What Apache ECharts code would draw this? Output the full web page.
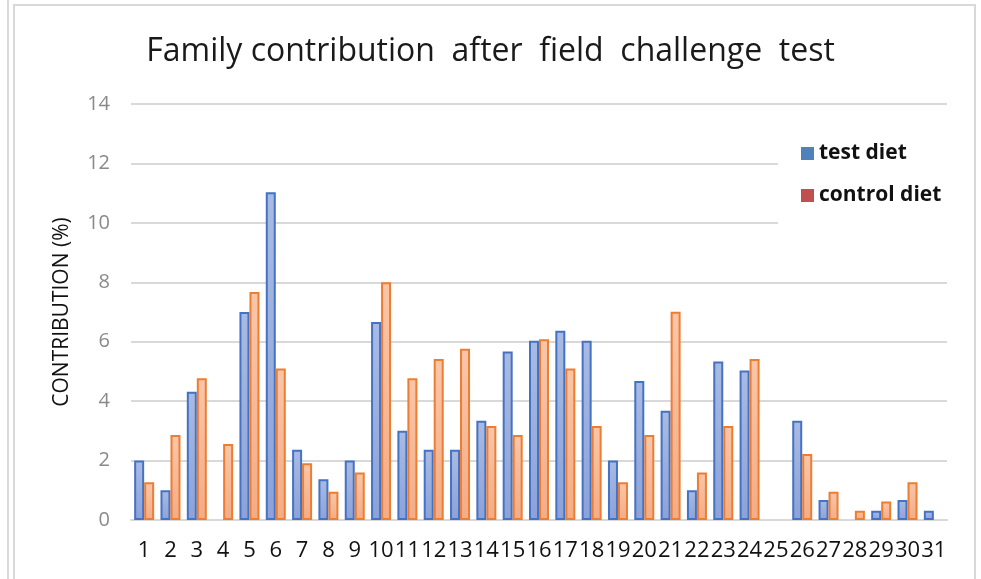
<!DOCTYPE html>
<html>
<head>
<meta charset="utf-8">
<script src="https://cdn.jsdelivr.net/npm/echarts@6/dist/echarts.min.js"></script>
<style>
    html, body { margin: 0; padding: 0; background: #fff; }
    #chart { width: 981px; height: 579px; }
</style>
</head>
<body>
<div id="chart"></div>
<script>
// families 1..31
var families = [];
for (var i = 1; i <= 31; i++) families.push(String(i));

// contribution (%), 0 = no bar in the picture
var test_diet = [2.0, 1.0, 4.32, 0, 7.0, 11.03, 2.36, 1.37, 2.0, 6.66,
    3.0, 2.36, 2.36, 3.34, 5.67, 6.03, 6.37, 6.03, 2.0, 4.68,
    3.68, 1.0, 5.33, 5.03, 0, 3.34, 0.67, 0, 0.31, 0.67, 0.31];
var control_diet = [1.27, 2.86, 4.77, 2.56, 7.67, 5.1, 1.91, 0.95, 1.6, 8.0,
    4.77, 5.42, 5.76, 3.16, 2.86, 6.08, 5.1, 3.16, 1.27, 2.86,
    7.01, 1.6, 3.16, 5.42, 0, 2.22, 0.95, 0.31, 0.62, 1.27, 0];

var chart = echarts.init(document.getElementById('chart'));

function grad(top, bottom) {
    return new echarts.graphic.LinearGradient(0, 0, 0, 1, [
        { offset: 0, color: top },
        { offset: 1, color: bottom }
    ]);
}

// empty bars are not drawn at all (no outline stub)
function hide_zero(values) {
    return values.map(function (v) { return v === 0 ? '-' : v; });
}

var option = {
    animation: false,
    textStyle: { fontFamily: 'Open Sans' },
    graphic: [{
        type: 'rect',
        shape: { x: 14, y: 5, width: 961, height: 590 },
        style: { fill: 'none', stroke: '#d9d9d9', lineWidth: 2 },
        z: -1
    }, {
        type: 'line',
        shape: { x1: 8, y1: 0, x2: 8, y2: 579 },
        style: { stroke: '#d9d9d9', lineWidth: 2 },
        z: -1
    }],
    title: {
        text: 'Family contribution  after  field  challenge  test',
        left: 'center',
        top: 31,
        textStyle: {
            fontFamily: 'Open Sans',
            fontSize: 32,
            fontWeight: 'normal',
            color: '#1a1a1a'
        }
    },
    legend: {
        orient: 'vertical',
        left: 778,
        top: 113,
        padding: [30, 20, 67, 23],
        backgroundColor: '#fff',
        itemWidth: 13,
        itemHeight: 13,
        itemGap: 21,
        icon: 'rect',
        textStyle: { fontSize: 21, fontWeight: 'bold', color: '#111', fontFamily: 'Open Sans' },
        data: [
            { name: 'test diet', itemStyle: { color: '#4F81BD', borderWidth: 0 } },
            { name: 'control diet', itemStyle: { color: '#C0504D', borderWidth: 0 } }
        ]
    },
    grid: {
        left: 131,
        right: 34,
        top: 104,
        bottom: 59
    },
    xAxis: [{
        type: 'category',
        data: families,
        axisLine: { lineStyle: { color: '#d9d9d9', width: 2 } },
        axisTick: { show: false },
        axisLabel: { color: '#111', fontSize: 22, margin: 20, interval: 0 }
    }],
    yAxis: [{
        type: 'value',
        min: 0,
        max: 14,
        interval: 2,
        name: 'CONTRIBUTION (%)',
        nameLocation: 'middle',
        nameGap: 58,
        nameTextStyle: { color: '#111', fontSize: 21, fontFamily: 'Open Sans' },
        axisLine: { show: false },
        axisTick: { show: false },
        axisLabel: { color: '#8a8a8a', fontSize: 20, margin: 21 },
        splitLine: { lineStyle: { color: '#d9d9d9', width: 2 } }
    }],
    series: [{
        name: 'test diet',
        type: 'bar',
        barWidth: 10,
        barGap: '0%',
        data: hide_zero(test_diet),
        itemStyle: {
            color: grad('#A9BBE3', '#8CA2D8'),
            borderColor: '#4472C4',
            borderWidth: 2
        }
    }, {
        name: 'control diet',
        type: 'bar',
        barWidth: 10,
        barGap: '0%',
        data: hide_zero(control_diet),
        itemStyle: {
            color: grad('#F9C6AA', '#F4AC86'),
            borderColor: '#ED7D31',
            borderWidth: 2
        }
    }]
};

chart.setOption(option);
</script>
</body>
</html>
